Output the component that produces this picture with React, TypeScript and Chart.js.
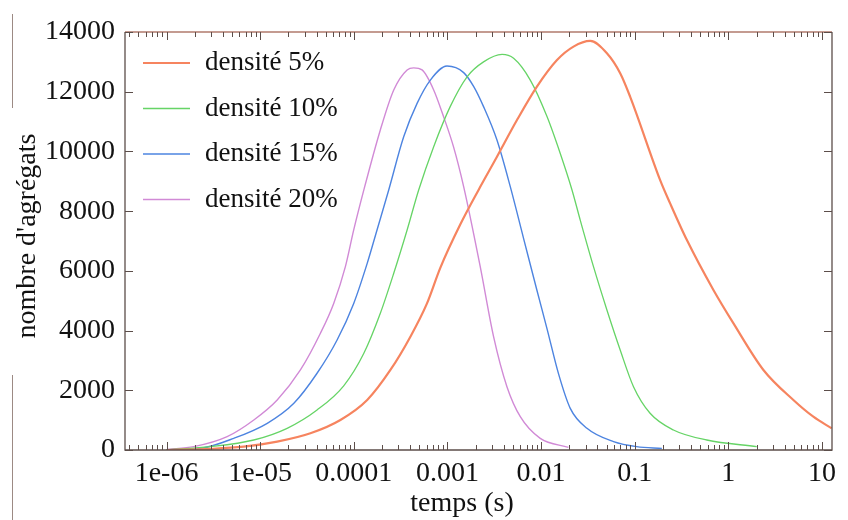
import React, { useEffect, useRef } from "react";
import { Chart, registerables } from "chart.js";

Chart.register(...registerables);

const seriesLabels = ["densité 5%", "densité 10%", "densité 15%", "densité 20%"];
const seriesColors = ["#f6845f", "#66d466", "#4d84e0", "#d18ad6"];
const seriesWidths = [2.2, 1.3, 1.4, 1.4];

const t5 = [1e-6, 3e-6, 6.68e-6, 1.52e-5, 3.44e-5, 7.19e-5, 1.39e-4, 2.46e-4, 4.02e-4, 6.05e-4, 8.39e-4, 1.37e-3, 2.15e-3, 3.38e-3, 5.53e-3, 9.03e-3, 1.48e-2, 2.22e-2, 3.35e-2, 5.05e-2, 7.0e-2, 8.95e-2, 0.187, 0.239, 0.361, 0.693, 1.135, 2.37, 4.95, 8.09, 12.7];
const v5 = [0, 40, 112, 280, 560, 1005, 1675, 2680, 3795, 4910, 6100, 7550, 8710, 9820, 11050, 12170, 13060, 13510, 13700, 13290, 12620, 11830, 9040, 8260, 7030, 5360, 4240, 2680, 1675, 1115, 727];

const t10 = [1e-6, 2.95e-6, 8.55e-6, 1.94e-5, 4.05e-5, 7.8e-5, 1.28e-4, 1.92e-4, 2.67e-4, 3.71e-4, 4.93e-4, 7.13e-4, 1.07e-3, 1.62e-3, 2.43e-3, 3.83e-3, 5.09e-3, 7.67e-3, 1.16e-2, 1.6e-2, 2.14e-2, 2.62e-2, 3.63e-2, 5.05e-2, 7.0e-2, 9.71e-2, 0.146, 0.259, 0.589, 2.01];
const v10 = [5, 112, 335, 727, 1340, 2150, 3240, 4580, 5920, 7370, 8710, 10160, 11500, 12500, 13000, 13250, 13120, 12390, 11160, 9940, 8710, 7700, 6140, 4690, 3350, 2120, 1230, 670, 335, 112];

const t15 = [1e-6, 2.31e-6, 5.22e-6, 1.19e-5, 2.29e-5, 4.05e-5, 6.63e-5, 9.98e-5, 1.39e-4, 1.77e-4, 2.36e-4, 3.41e-4, 4.74e-4, 6.57e-4, 9.9e-4, 1.49e-3, 1.91e-3, 2.43e-3, 3.38e-3, 4.69e-3, 6.5e-3, 9.03e-3, 1.16e-2, 1.54e-2, 2.05e-2, 3.09e-2, 5.94e-2, 0.105, 0.195];
const v15 = [10, 55, 390, 895, 1565, 2570, 3685, 4910, 6250, 7370, 8710, 10490, 11610, 12390, 12860, 12640, 12170, 11500, 10380, 8820, 7090, 5350, 4050, 2540, 1395, 727, 280, 112, 55];

const t20 = [1.02e-6, 1.95e-6, 4.44e-6, 8.55e-6, 1.52e-5, 2.69e-5, 4.4e-5, 6.1e-5, 8.13e-5, 9.98e-5, 1.28e-4, 1.92e-4, 2.67e-4, 3.71e-4, 4.36e-4, 5.36e-4, 7.13e-4, 9.1e-4, 1.16e-3, 1.49e-3, 2.24e-3, 3.11e-3, 4.32e-3, 6.0e-3, 9.8e-3, 1.96e-2];
const v20 = [22, 112, 447, 1005, 1675, 2680, 3910, 4910, 6140, 7370, 8710, 10720, 12060, 12730, 12800, 12730, 12060, 11160, 10160, 8820, 6140, 3795, 2120, 1115, 390, 89];

const seriesTimes = [t5, t10, t15, t20];
const seriesValues = [v5, v10, v15, v20];

const xTickValues = [1e-6, 1e-5, 1e-4, 1e-3, 1e-2, 1e-1, 1, 10];
const xTickLabels = ["1e-06", "1e-05", "0.0001", "0.001", "0.01", "0.1", "1", "10"];
const yTickValues = [0, 2000, 4000, 6000, 8000, 10000, 12000, 14000];

const xMin = 3.6e-7;
const xMax = 12.8;
const yTitle = "nombre d'agrégats";
const xTitle = "temps (s)";

const FONT = "'Liberation Serif', 'Times New Roman', serif";
const FS_TICK = 28;
const FS_LEG = 27;

const decorPlugin = {
  id: "decor",
  afterDraw(chart: any) {
    const ctx = chart.ctx;
    const a = chart.chartArea;
    const xs = chart.scales.x;
    const ys = chart.scales.y;
    ctx.save();
    // artifact lines at far left
    ctx.strokeStyle = "#9c8a84";
    ctx.lineWidth = 1;
    ctx.beginPath();
    ctx.moveTo(12.5, 14);
    ctx.lineTo(12.5, 108);
    ctx.moveTo(12.5, 375);
    ctx.lineTo(12.5, 520);
    ctx.stroke();

    // frame
    ctx.lineWidth = 1.3;
    ctx.strokeStyle = "#5c4e4a";
    ctx.beginPath();
    ctx.moveTo(a.left, a.top);
    ctx.lineTo(a.left, a.bottom);
    ctx.lineTo(a.right, a.bottom);
    ctx.lineTo(a.right, a.top);
    ctx.stroke();
    ctx.strokeStyle = "#b07a6c";
    ctx.beginPath();
    ctx.moveTo(a.left, a.top);
    ctx.lineTo(a.right, a.top);
    ctx.stroke();

    // x ticks (major and minor) top and bottom
    ctx.strokeStyle = "#5c4e4a";
    ctx.lineWidth = 1;
    ctx.beginPath();
    for (let e = -7; e <= 1; e++) {
      for (let m = 1; m <= 9; m++) {
        const v = m * Math.pow(10, e);
        if (v < xMin || v > xMax) continue;
        const px = Math.round(xs.getPixelForValue(v)) + 0.5;
        const len = m === 1 ? 8 : 5;
        ctx.moveTo(px, a.bottom);
        ctx.lineTo(px, a.bottom - len);
        ctx.moveTo(px, a.top);
        ctx.lineTo(px, a.top + len);
      }
    }
    // y ticks left and right
    for (const v of yTickValues) {
      const py = Math.round(ys.getPixelForValue(v)) + 0.5;
      ctx.moveTo(a.left, py);
      ctx.lineTo(a.left + 8, py);
      ctx.moveTo(a.right, py);
      ctx.lineTo(a.right - 8, py);
    }
    ctx.stroke();

    // legend
    ctx.font = `${FS_LEG}px ${FONT}`;
    ctx.textBaseline = "middle";
    ctx.textAlign = "left";
    chart.data.datasets.forEach((ds: any, i: number) => {
      const y = a.top + 31 + i * 45.5;
      ctx.strokeStyle = ds.borderColor;
      ctx.lineWidth = ds.borderWidth;
      ctx.beginPath();
      ctx.moveTo(a.left + 18, y);
      ctx.lineTo(a.left + 65, y);
      ctx.stroke();
      ctx.fillStyle = "#111";
      ctx.fillText(ds.label, a.left + 80, y);
    });

    // axis titles
    ctx.font = `${FS_TICK}px ${FONT}`;
    ctx.fillStyle = "#111";
    ctx.textAlign = "center";
    ctx.fillText(xTitle, 462, 504);
    ctx.translate(28, 236);
    ctx.rotate(-Math.PI / 2);
    ctx.fillText(yTitle, 0, 0);
    ctx.restore();
  },
};

export default function App() {
  const ref = useRef<HTMLCanvasElement>(null);
  useEffect(() => {
    document.body.style.margin = "0";
    const datasets = seriesLabels.map((label, i) => ({
      label,
      data: seriesTimes[i].map((t, j) => ({ x: t, y: seriesValues[i][j] })),
      borderColor: seriesColors[i],
      backgroundColor: seriesColors[i],
      borderWidth: seriesWidths[i],
      pointRadius: 0,
      fill: false,
      cubicInterpolationMode: "monotone" as const,
    }));
    const chart = new Chart(ref.current as HTMLCanvasElement, {
      type: "line",
      data: { datasets },
      options: {
        animation: false,
        responsive: false,
        layout: { padding: { left: 0, top: 32, right: 16, bottom: 0 } },
        plugins: { legend: { display: false }, tooltip: { enabled: false } },
        scales: {
          x: {
            type: "logarithmic",
            min: xMin,
            max: xMax,
            grid: { display: false, drawTicks: false },
            border: { display: false },
            afterBuildTicks: (s: any) => {
              s.ticks = xTickValues.map((v) => ({ value: v }));
            },
            afterFit: (s: any) => {
              s.height = 70;
            },
            ticks: {
              autoSkip: false,
              maxRotation: 0,
              padding: 7,
              color: "#111",
              font: { family: FONT, size: FS_TICK },
              callback: (_v: any, i: number) => xTickLabels[i],
            },
          },
          y: {
            min: 0,
            max: 14000,
            grid: { display: false, drawTicks: false },
            border: { display: false },
            afterBuildTicks: (s: any) => {
              s.ticks = yTickValues.map((v) => ({ value: v }));
            },
            afterFit: (s: any) => {
              s.width = 125;
            },
            ticks: {
              padding: 10,
              color: "#111",
              font: { family: FONT, size: FS_TICK },
              callback: (v: any) => String(v),
            },
          },
        },
      },
      plugins: [decorPlugin],
    });
    return () => chart.destroy();
  }, []);
  return <canvas ref={ref} width={848} height={520} style={{ display: "block" }} />;
}
